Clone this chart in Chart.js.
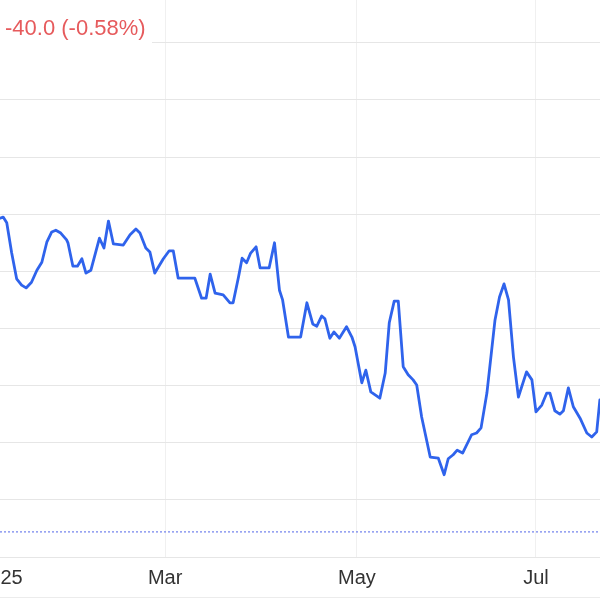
<!DOCTYPE html>
<html>
<head>
<meta charset="utf-8">
<script src="https://cdn.jsdelivr.net/npm/chart.js@4/dist/chart.umd.min.js"></script>
<style>
  html, body { margin: 0; padding: 0; background: #ffffff; }
  #wrap { width: 600px; height: 600px; position: relative; }
</style>
</head>
<body>
<div id="wrap"><canvas id="c"></canvas></div>
<script>
// Trading-day index (x) and price (y)
const days = [0, 0.7, 1.5, 2.6, 3.7, 4.8, 5.8, 7.0, 8.2, 9.3, 10.4, 11.5, 12.4, 13.5, 14.8, 15.1,
  16.2, 17.2, 18.2, 19.1, 20.2, 22.1, 23.1, 24.1, 25.2, 27.4, 28.9, 30.2, 31.1, 32.4, 33.3,
  34.4, 36.3, 37.6, 38.5, 39.6, 40.7, 43.3, 44.8, 45.8, 46.7, 47.8, 49.6, 51.1, 51.8, 53.0,
  53.8, 54.8, 55.7, 56.9, 57.8, 59.8, 61.0, 62.1, 62.8, 64.1, 66.8, 68.2, 69.5, 70.4, 71.5,
  72.2, 73.3, 74.2, 75.4, 77.0, 78.2, 78.9, 80.4, 81.3, 82.4, 84.4, 85.6, 86.5, 87.6, 88.5,
  89.6, 90.7, 91.8, 92.6, 93.7, 95.6, 97.4, 98.7, 99.6, 100.7, 101.6, 102.8, 104.8, 105.9,
  106.9, 108.2, 110.0, 111.0, 112.0, 113.0, 114.1, 115.2, 117.0, 118.2, 119.1, 120.4, 121.5,
  122.2, 123.3, 124.4, 125.2, 126.3, 127.4, 128.9, 130.4, 131.5, 132.6, 133.3];
const prices = [7193, 7195, 7185, 7132, 7087, 7076, 7071, 7081, 7102, 7116, 7151, 7169, 7172, 7167, 7155, 7150,
  7109, 7109, 7122, 7097, 7102, 7158, 7141, 7188, 7148, 7146, 7164, 7174, 7167, 7141, 7134,
  7097, 7122, 7136, 7136, 7088, 7088, 7088, 7053, 7053, 7095, 7062, 7059, 7045, 7045, 7090,
  7123, 7115, 7132, 7143, 7106, 7106, 7150, 7067, 7050, 6985, 6985, 7045, 7008, 7004, 7022,
  7017, 6983, 6994, 6983, 7003, 6985, 6968, 6905, 6927, 6889, 6878, 6922, 7010, 7048, 7048,
  6933, 6919, 6910, 6901, 6845, 6775, 6773, 6744, 6772, 6779, 6787, 6782, 6814, 6817,
  6826, 6887, 7015, 7055, 7078, 7050, 6950, 6880, 6924, 6910, 6854, 6866, 6887,
  6887, 6856, 6850, 6856, 6896, 6863, 6843, 6817, 6810, 6819, 6875];

// Month ticks (trading-day index) and their labels
const monthTickDays = [0.1, 36.7, 79.3, 119.1];
const monthTickLabels = ["2025", "Mar", "May", "Jul"];

// Price gridline levels and reference (dotted) level
const priceGridLevels = [6600, 6700, 6800, 6900, 7000, 7100, 7200, 7300, 7400, 7500];
const referenceLevel = 6644;
const changeText = "-40.0 (-0.58%)";

const FONT = "'Liberation Sans', Arial, sans-serif";

const mainData = days.map((d, i) => ({ x: d, y: prices[i] }));
const refData = [{ x: 0, y: referenceLevel }, { x: 133.33, y: referenceLevel }];

const overlay = {
  id: 'overlay',
  beforeDatasetsDraw(chart) {
    const ctx = chart.ctx;
    ctx.save();
    ctx.strokeStyle = '#ececec';
    ctx.lineWidth = 1;
    ctx.beginPath();
    ctx.moveTo(0, 597.5);
    ctx.lineTo(600, 597.5);
    ctx.stroke();
    ctx.restore();
  },
  afterDraw(chart) {
    const ctx = chart.ctx;
    ctx.save();
    ctx.fillStyle = '#ffffff';
    ctx.fillRect(0, 0, 152, 47);
    ctx.font = "22px " + FONT;
    ctx.fillStyle = '#e65a5c';
    ctx.textBaseline = 'middle';
    ctx.textAlign = 'left';
    ctx.fillText(changeText, 5, 29);
    ctx.restore();
  }
};

new Chart(document.getElementById('c'), {
  type: 'line',
  data: {
    datasets: [
      {
        data: mainData,
        borderColor: '#2f63ec',
        borderWidth: 2.8,
        pointRadius: 0,
        tension: 0,
        fill: false,
        borderJoinStyle: 'round',
        borderCapStyle: 'round'
      },
      {
        data: refData,
        borderColor: 'rgba(110,128,235,0.8)',
        borderWidth: 1.5,
        borderDash: [2, 2],
        pointRadius: 0,
        fill: false
      }
    ]
  },
  options: {
    responsive: true,
    maintainAspectRatio: false,
    animation: false,
    devicePixelRatio: 1,
    layout: { padding: 0 },
    plugins: { legend: { display: false }, tooltip: { enabled: false }, title: { display: false } },
    scales: {
      x: {
        type: 'linear',
        min: 0,
        max: 133.33,
        border: { display: false },
        grid: {
          drawTicks: false,
          color: (c) => (c.index === 0 ? 'rgba(0,0,0,0)' : '#f0f0f0'),
          lineWidth: 1
        },
        afterBuildTicks(scale) {
          scale.ticks = monthTickDays.map(v => ({ value: v }));
        },
        ticks: {
          autoSkip: false,
          maxRotation: 0,
          padding: 9,
          color: '#333333',
          font: { family: FONT, size: 20 },
          callback: (val, idx) => monthTickLabels[idx]
        },
        afterFit(scale) {
          scale.height = 43;
          scale.paddingLeft = 0;
          scale.paddingRight = 0;
        }
      },
      y: {
        type: 'linear',
        min: 6600,
        max: 7575,
        border: { display: false },
        grid: { drawTicks: false, color: '#e6e6e6', lineWidth: 1 },
        afterBuildTicks(scale) {
          scale.ticks = priceGridLevels.map(v => ({ value: v }));
        },
        ticks: { display: false },
        afterFit(scale) {
          scale.width = 0;
          scale.paddingTop = 0;
          scale.paddingBottom = 0;
        }
      }
    }
  },
  plugins: [overlay]
});
</script>
</body>
</html>
